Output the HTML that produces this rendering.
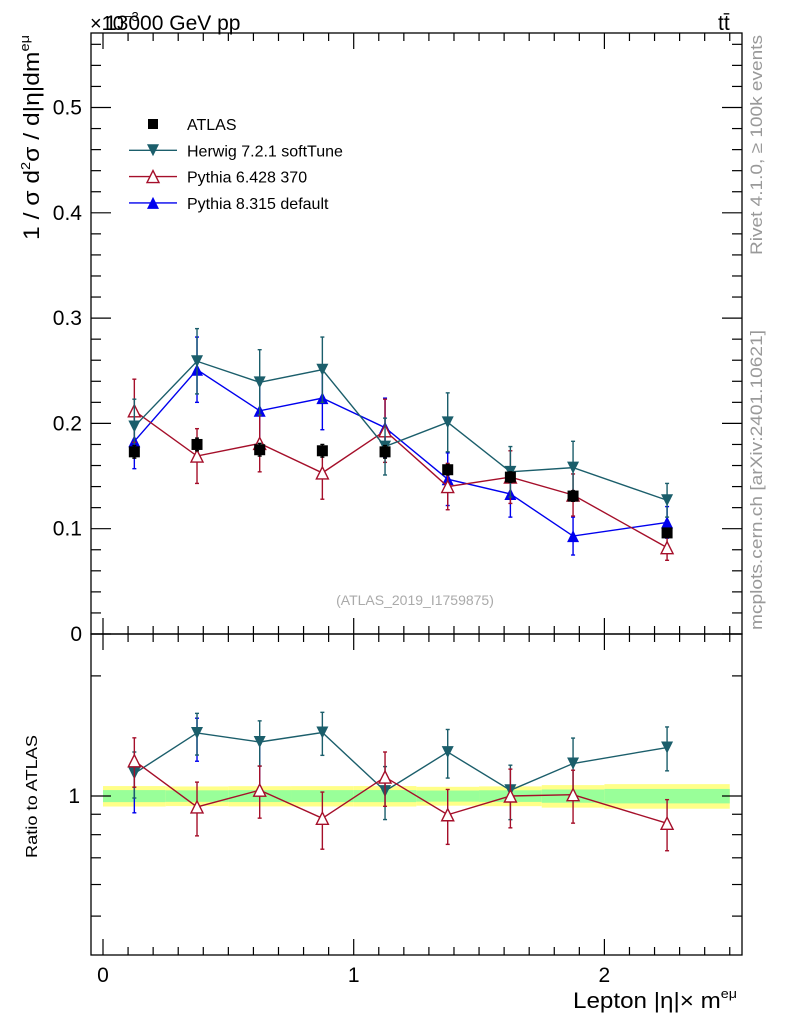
<!DOCTYPE html>
<html><head><meta charset="utf-8"><style>
body{margin:0;background:#fff;}
svg{display:block;font-family:"Liberation Sans",sans-serif;}
</style></head><body>
<svg id="c" width="786" height="1024" viewBox="0 0 786 1024" xmlns="http://www.w3.org/2000/svg">
<rect x="0" y="0" width="786" height="1024" fill="#fff"/>
<g id="band"></g><g id="grid"></g><g id="marks"></g>
<rect x="91" y="33" width="651" height="601" fill="none" stroke="#000" stroke-width="1.3"/>
<rect x="91" y="634" width="651" height="321" fill="none" stroke="#000" stroke-width="1.3"/>
<text x="90" y="30" font-size="20">×10<tspan font-size="13" dy="-9">−3</tspan></text>
<text x="105" y="30" font-size="21">13000 GeV pp</text>
<text x="718" y="30" font-size="21">tt̄</text>
<text transform="translate(39,240) rotate(-90)" font-size="22" textLength="205" lengthAdjust="spacingAndGlyphs">1 / σ  d<tspan font-size="13" dy="-9">2</tspan><tspan dy="9">σ / d|η|dm</tspan><tspan font-size="13" dy="-10">eμ</tspan></text>
<text transform="translate(37,858) rotate(-90)" font-size="16" textLength="123" lengthAdjust="spacingAndGlyphs">Ratio to ATLAS</text>
<text x="573" y="1008" font-size="22" textLength="164" lengthAdjust="spacingAndGlyphs">Lepton |η|× m<tspan font-size="13" dy="-10">eμ</tspan></text>
<text transform="translate(762,255) rotate(-90)" font-size="17" fill="#999" textLength="220" lengthAdjust="spacingAndGlyphs">Rivet 4.1.0, ≥ 100k events</text>
<text transform="translate(762,630) rotate(-90)" font-size="17" fill="#999" textLength="300" lengthAdjust="spacingAndGlyphs">mcplots.cern.ch [arXiv:2401.10621]</text>
<text x="415" y="605" font-size="14" fill="#aaa" text-anchor="middle">(ATLAS_2019_I1759875)</text>
<g id="legend"></g>
</svg>
<script>
const xs = [0.125,0.375,0.625,0.875,1.125,1.375,1.625,1.875,2.25];
const atlas = [0.173,0.180,0.175,0.174,0.173,0.156,0.149,0.131,0.096];
const atlasErr = [0.006,0.006,0.006,0.006,0.006,0.005,0.005,0.005,0.004];
const herwig = [0.197,0.259,0.239,0.251,0.178,0.201,0.154,0.158,0.127];
const herwigErr = [0.026,0.031,0.031,0.031,0.027,0.028,0.024,0.025,0.016];
const py6 = [0.212,0.169,0.181,0.153,0.193,0.140,0.149,0.132,0.082];
const py6Err = [0.030,0.026,0.027,0.025,0.030,0.022,0.025,0.020,0.012];
const py8 = [0.183,0.251,0.212,0.224,0.196,0.147,0.133,0.093,0.106];
const py8Err = [0.026,0.031,0.030,0.030,0.028,0.025,0.022,0.018,0.015];
const yTicks = [0,0.1,0.2,0.3,0.4,0.5];
const xTicks = [0,1,2];

const NS="http://www.w3.org/2000/svg";
const X=v=>103+v*250.7;
const Y=v=>634-v*1053;
const R=v=>796-Math.log10(v)*399;
function mk(p,tag,a){const e=document.createElementNS(NS,tag);for(const k in a)e.setAttribute(k,a[k]);document.getElementById(p).appendChild(e);return e;}
const edges=[0,0.25,0.5,0.75,1,1.25,1.5,1.75,2,2.5];
for(let i=0;i<9;i++){
 const e=atlasErr[i]/atlas[i];
 let r=mk('band','rect',{x:X(edges[i]),y:R(1+e*1.7),width:X(edges[i+1])-X(edges[i]),height:R(1-e*1.7)-R(1+e*1.7),fill:'#ffff88'});
 
 
 r=mk('band','rect',{x:X(edges[i]),y:R(1+e),width:X(edges[i+1])-X(edges[i]),height:R(1-e)-R(1+e),fill:'#99ff99'});
 
 
}
for(let v=0;v<=2.5001;v+=0.1){
 const maj=Math.abs(v-Math.round(v))<1e-6;const L=maj?16:8;
 for(const yb of [634,955]) mk('grid','line',{x1:X(v),x2:X(v),y1:yb,y2:yb-L,stroke:'#000','stroke-width':1.2});
 for(const yt of [33,634]) mk('grid','line',{x1:X(v),x2:X(v),y1:yt,y2:yt+L,stroke:'#000','stroke-width':1.2});
}
for(const t of xTicks){const e=mk('grid','text',{x:X(t),y:982,'font-size':21,'text-anchor':'middle'});e.textContent=t;
 
 }
for(let v=0;v<=0.5701;v+=0.02){
 const maj=Math.abs(v*10-Math.round(v*10))<1e-6;const L=maj?20:10;
 mk('grid','line',{x1:91,x2:91+L,y1:Y(v),y2:Y(v),stroke:'#000','stroke-width':1.2});
 mk('grid','line',{x1:742,x2:742-L,y1:Y(v),y2:Y(v),stroke:'#000','stroke-width':1.2});
}
for(const t of yTicks){const e=mk('grid','text',{x:82,y:Y(t)+7,'font-size':21,'text-anchor':'end'});e.textContent=t===0?'0':t.toFixed(1);
 
 }
for(const v of [0.5,0.6,0.7,0.8,0.9,1,2]){
 const L=v===1?20:10;
 mk('grid','line',{x1:91,x2:91+L,y1:R(v),y2:R(v),stroke:'#000','stroke-width':1.2});
 mk('grid','line',{x1:742,x2:742-L,y1:R(v),y2:R(v),stroke:'#000','stroke-width':1.2});
}
{const e=mk('grid','text',{x:80,y:R(1)+7,'font-size':21,'text-anchor':'end'});e.textContent='1';
 
 }

function marker(g,type,x,y,col,s){
 s=s||6;
 if(type==='sq') return mk(g,'rect',{x:x-s,y:y-s,width:2*s,height:2*s,fill:'#000'});
 if(type==='down') return mk(g,'polygon',{points:`${x-s},${y-s} ${x+s},${y-s} ${x},${y+s}`,fill:col});
 if(type==='up') return mk(g,'polygon',{points:`${x-s},${y+s} ${x+s},${y+s} ${x},${y-s}`,fill:col});
 if(type==='open') return mk(g,'polygon',{points:`${x-s},${y+s} ${x+s},${y+s} ${x},${y-s}`,fill:'#fff',stroke:col,'stroke-width':1.4});
}
function series(name,vals,errs,col,type,yf,ref,only){
 const pts=[];
 for(let i=0;i<xs.length;i++){
  if(only&&!only(i))continue;
  const v=ref?vals[i]/ref[i]:vals[i], e=ref?errs[i]/ref[i]:errs[i];
  const x=X(xs[i]);
  const b=mk('marks','line',{x1:x,x2:x,y1:yf(v+e),y2:yf(Math.max(v-e,0.0001)),stroke:col,'stroke-width':1.4});
  
  
  for(const yy of [yf(v+e),yf(Math.max(v-e,0.0001))]) mk('marks','line',{x1:x-2,x2:x+2,y1:yy,y2:yy,stroke:col,'stroke-width':1.4});
  pts.push([x,yf(v)]);
 }
 return pts;
}
function draw(name,vals,errs,col,type,yf,ref,only,noMarker){
 const pts=series(name,vals,errs,col,type,yf,ref,only);
 if(type!=='sq'&&!noMarker){const l=mk('marks','polyline',{points:pts.map(p=>p.join(',')).join(' '),fill:'none',stroke:col,'stroke-width':1.4});
  
  }
 if(!noMarker) for(const p of pts){const m=marker('marks',type,p[0],p[1],col,type==='sq'?5.5:6);
  
  }
}
const H='#1b5e6b',P6='#a50f2a',P8='#0000ee';
draw('pythia8',py8,py8Err,P8,'up',Y);
draw('pythia6',py6,py6Err,P6,'open',Y);
draw('herwig',herwig,herwigErr,H,'down',Y);
draw('atlas',atlas,atlasErr,'#000','sq',Y);
draw('pythia8-ratio',py8,py8Err,P8,'up',R,atlas,i=>i<3,true);
draw('herwig-ratio',herwig,herwigErr,H,'down',R,atlas);
draw('pythia6-ratio',py6,py6Err,P6,'open',R,atlas);
const leg=[['ATLAS','sq','#000'],['Herwig 7.2.1 softTune','down',H],['Pythia 6.428 370','open',P6],['Pythia 8.315 default','up',P8]];
leg.forEach((l,i)=>{
 const y=124+i*26.3;
 if(l[1]!=='sq') mk('legend','line',{x1:129,x2:177,y1:y,y2:y,stroke:l[2],'stroke-width':1.4});
 const m=marker('legend',l[1],153,y,l[2],l[1]==='sq'?5:6);
 
 
 const t=mk('legend','text',{x:187,y:y+6,'font-size':16});t.textContent=l[0];
 
 
});
</script>
</body></html>
